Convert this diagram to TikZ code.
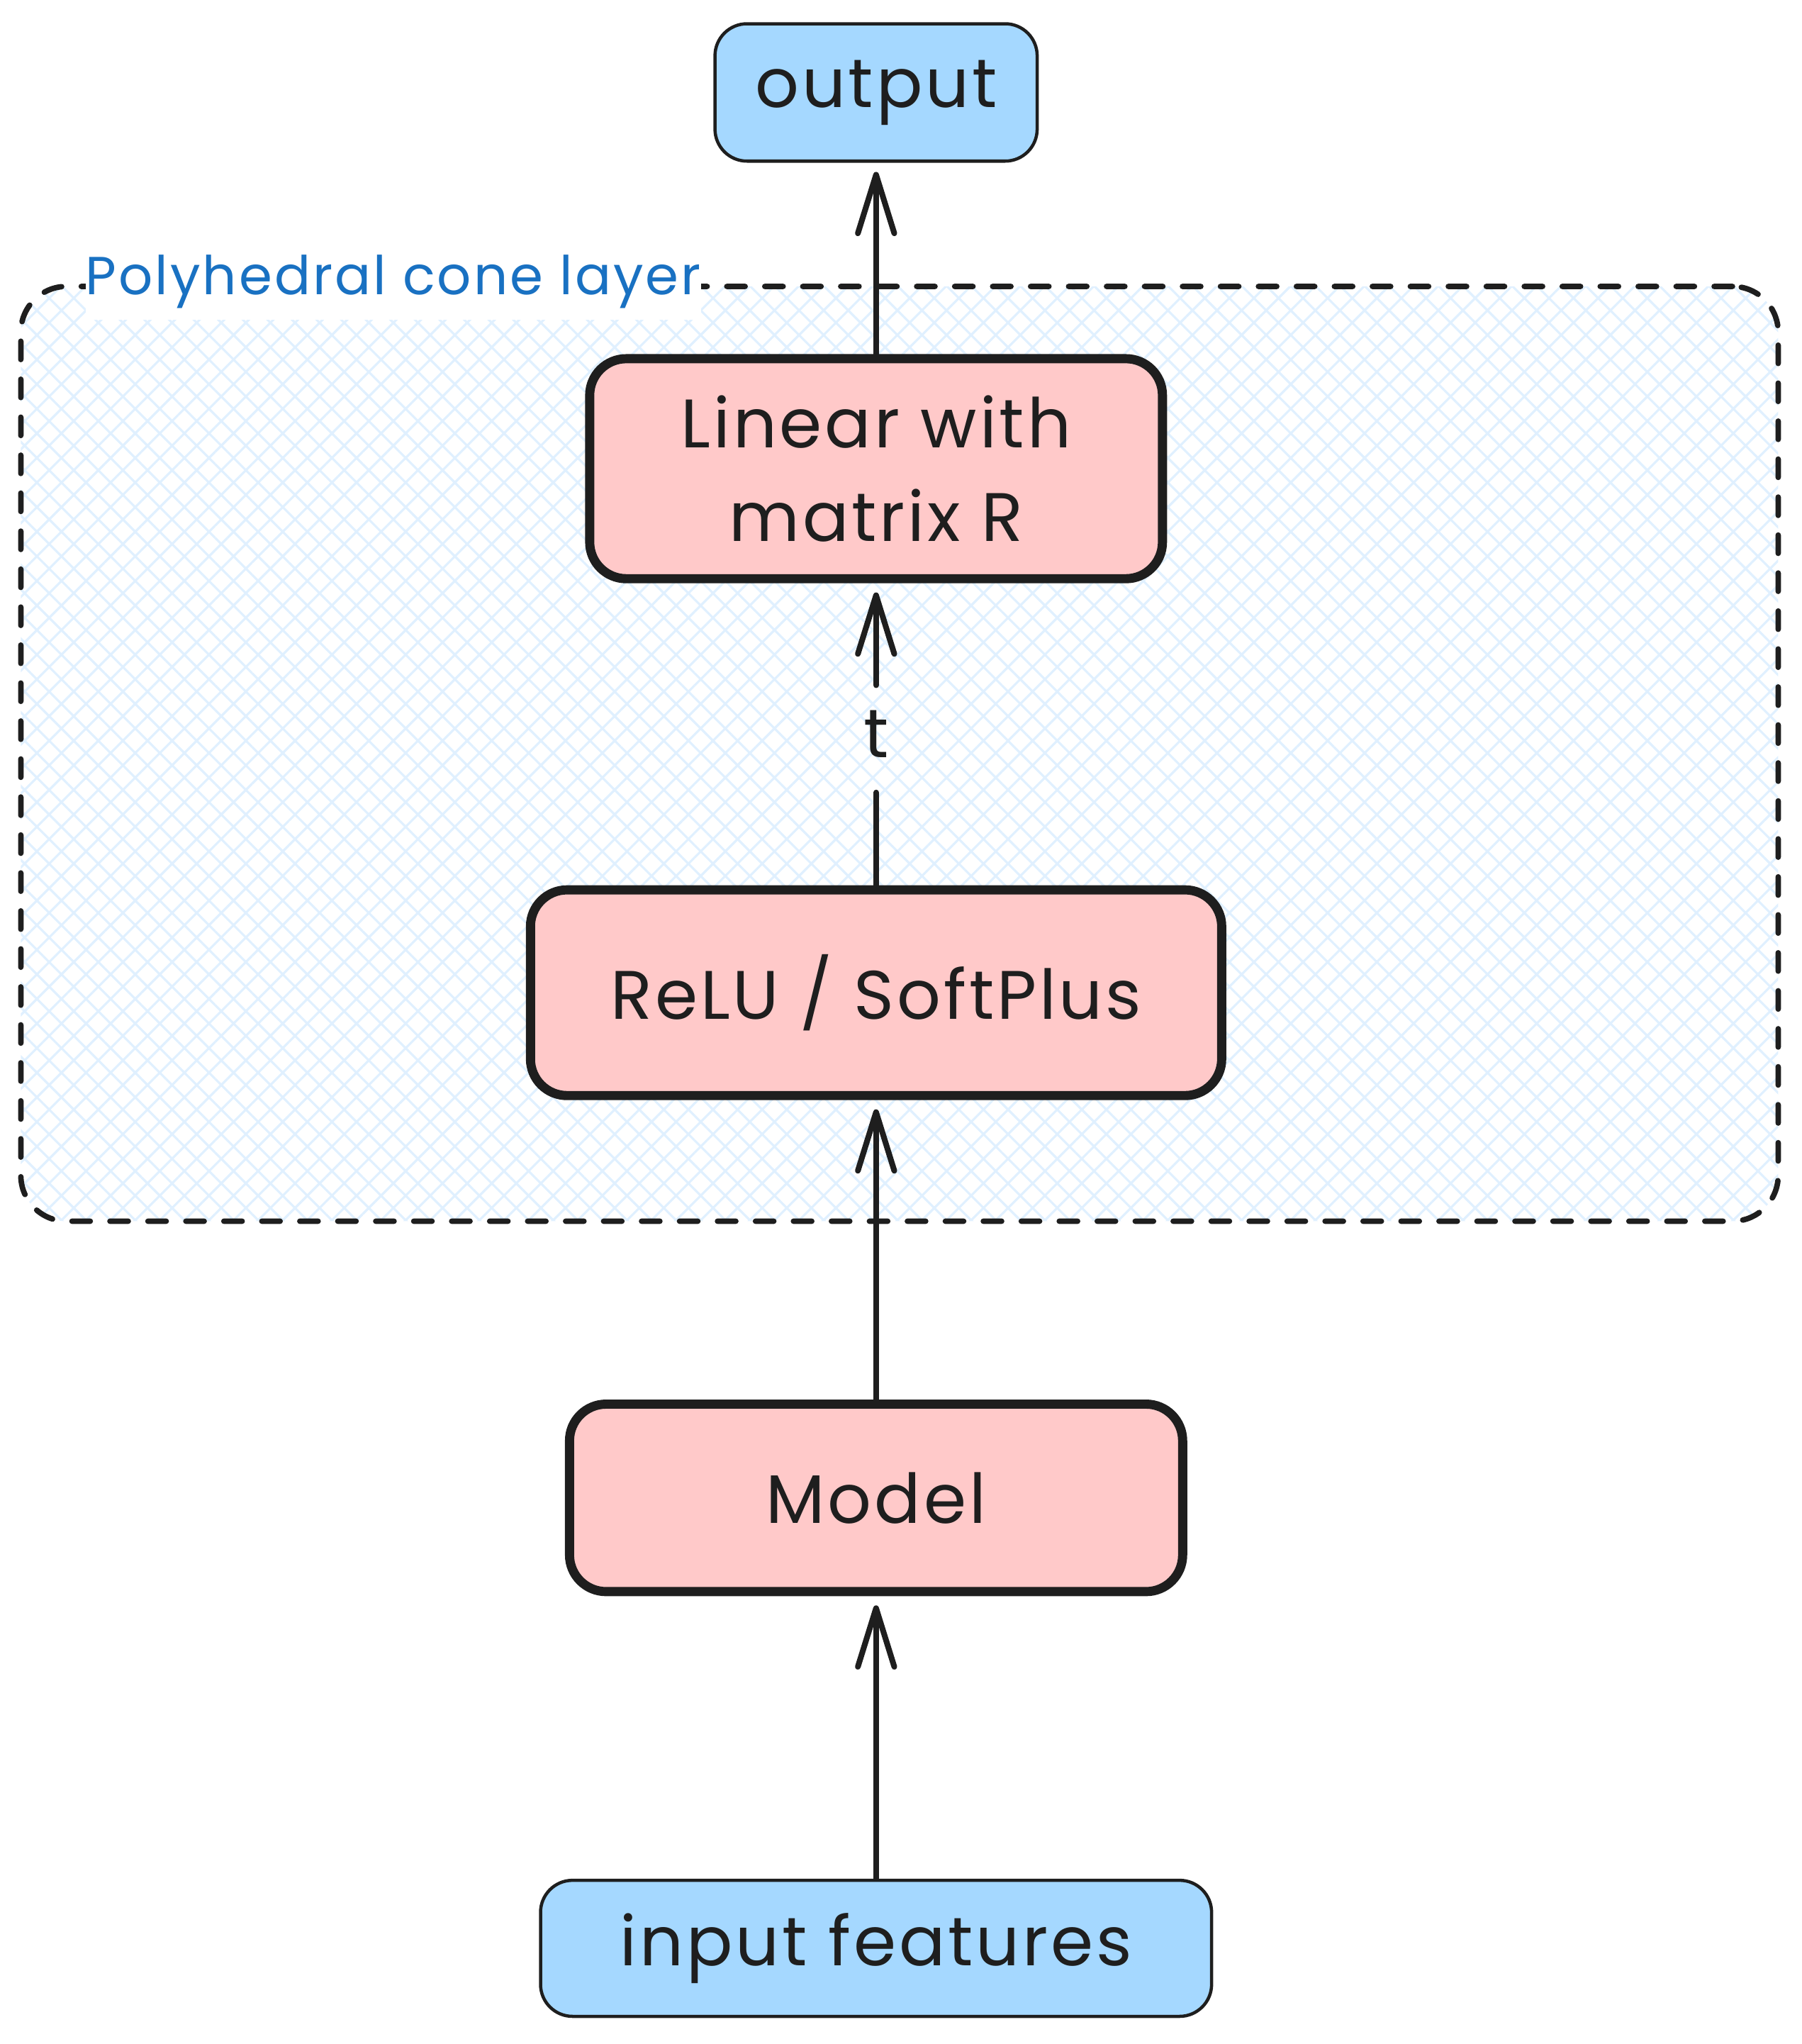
\documentclass[tikz,border=0pt]{standalone}
\usepackage{fontspec}
\setmainfont{Poppins}[LetterSpace=4]
\usepackage{tikz}
\usetikzlibrary{arrows.meta, patterns.meta}
\definecolor{ink}{HTML}{1E1E1E}
\definecolor{rosefill}{HTML}{FFC9C9}
\definecolor{skyfill}{HTML}{A5D8FF}
\definecolor{hatchblue}{HTML}{E0F0FF}
\definecolor{labelblue}{HTML}{1971C2}

\begin{document}
\begin{tikzpicture}
	[%
	>={Straight Barb[length=4.5mm, width=2.8mm, round]},%
	layer/.style ={rectangle,	rounded corners=8pt,	draw=ink,	fill=rosefill,	line width=2pt,	inner sep=0pt,	align=center,	text=ink,	font=\fontsize{15}{20.5}\selectfont},%
	io/.style    ={rectangle,	rounded corners=7pt,	draw=ink,	fill=skyfill,	line width=0.7pt,	inner sep=0pt,	text=ink,	font=\fontsize{15}{20.5}\selectfont},%
	cone/.style  ={rectangle,	rounded corners=10pt,	draw=ink,	line width=1.2pt,	line cap=round,	dash pattern=on 4pt off 4.3pt,	pattern={Hatch[angle=45,distance=3.8pt,line width=0.5pt]},	pattern color=hatchblue},%
	link/.style  ={->,	draw=ink,	line width=1.25pt,	line cap=round,	shorten >=2pt},%
	]

	\newcommand\xmid{6.73}

	% bounding box
	\useasboundingbox (0,0) rectangle (13.84,-15.70);

	% polyhedral cone layer
	\node (cone) at (6.91,-5.79) [cone, minimum width=13.5cm, minimum height=7.18cm] {};
	\node (conelabel) at (0.65,-2.26) [anchor=base west, fill=white, inner xsep=0pt, inner ysep=2.5pt, text=labelblue, font=\fontsize{11.7}{14}\selectfont] {Polyhedral cone layer};

	% nodes
	\node (output) at (\xmid,-0.71)   [io, minimum width=2.475cm, minimum height=1.055cm] {output};
	\node (linear) at (\xmid,-3.60)   [layer, minimum width=4.40cm, minimum height=1.69cm] {Linear with\\matrix R};
	\node (tlabel) at (\xmid,-5.64)   [inner sep=0pt, minimum height=0.74cm, text=ink, font=\fontsize{15}{20.5}\selectfont] {t};
	\node (relu)   at (\xmid,-7.625)  [layer, minimum width=5.31cm, minimum height=1.58cm] {ReLU / SoftPlus};
	\node (model)  at (\xmid,-11.505) [layer, minimum width=4.71cm, minimum height=1.44cm] {Model};
	\node (input)  at (\xmid,-14.965) [io, minimum width=5.155cm, minimum height=1.045cm] {input features};

	% interconnections
	\draw [link] (input) to (model);
	\draw [link] (model) to (relu);
	\draw [link, -] (relu) to (tlabel);
	\draw [link] (tlabel) to (linear);
	\draw [link] (linear) to (output);

\end{tikzpicture}
\end{document}
